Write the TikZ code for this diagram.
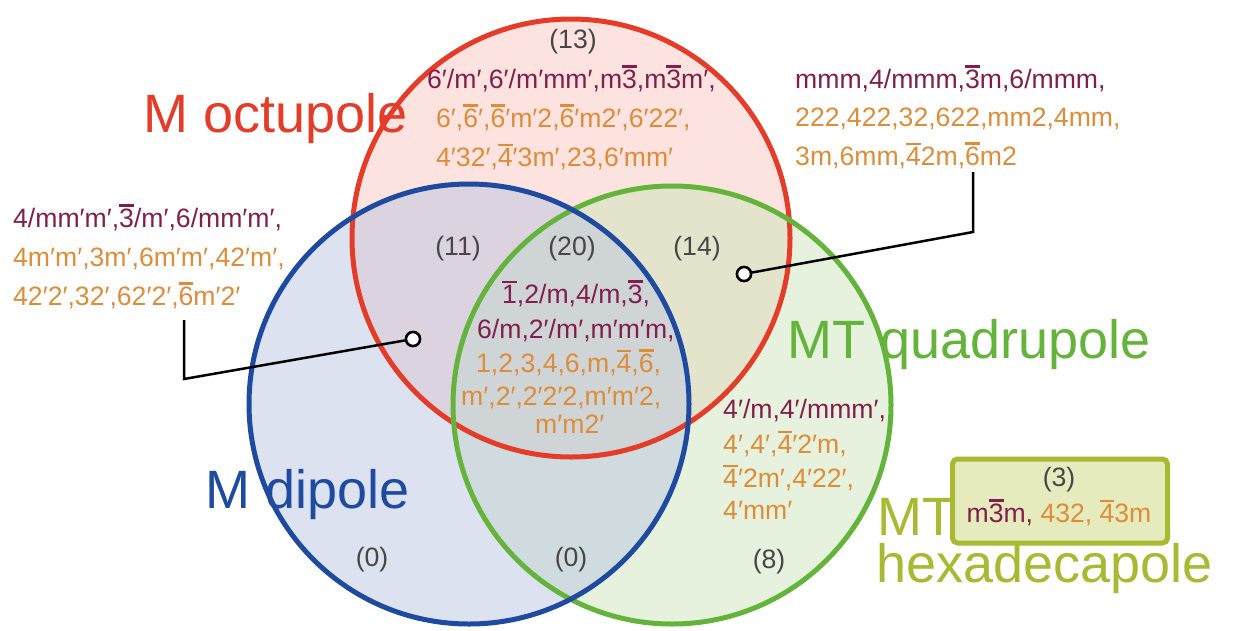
\documentclass[tikz,border=0pt]{standalone}
\usepackage{fontspec}
\setmainfont{Liberation Sans}
\definecolor{cred}{RGB}{228,60,40}
\definecolor{cblue}{RGB}{30,75,160}
\definecolor{cgreen}{RGB}{100,180,60}
\definecolor{colive}{RGB}{170,185,50}
\definecolor{fred}{RGB}{249,199,191}
\definecolor{fgreen}{RGB}{205,229,187}
\definecolor{fblue}{RGB}{187,197,225}
\definecolor{fbox}{RGB}{230,235,190}
\definecolor{cpur}{RGB}{130,30,75}
\definecolor{corg}{RGB}{222,140,55}
\definecolor{cgrey}{RGB}{70,70,70}
\newcommand\ob[1]{\leavevmode\vbox{\hrule height 0.085em\kern 0.07em\hbox{#1}}}
\newcommand\pu[1]{\textcolor{cpur}{#1}}
\newcommand\og[1]{\textcolor{corg}{#1}}
\begin{document}
\begin{tikzpicture}[x=1pt,y=-1pt,
  small/.style={font=\fontsize{26.6}{30}\selectfont, inner sep=0pt},
  lineL/.style={small, anchor=base west},
  count/.style={small, text=cgrey, anchor=center},
  big/.style={font=\fontsize{54}{60}\selectfont, inner sep=0pt, anchor=base west},
  ring/.style={line width=5pt},
  marker/.style={circle, draw=black, fill=white, line width=2.5pt, minimum size=14pt, inner sep=0pt},
  leader/.style={draw=black, line width=2.5pt}]
\useasboundingbox (0,0) rectangle (1233,630);
% circle centres
\coordinate (Ro) at (571,238);
\coordinate (Bo) at (469,404);
\coordinate (Go) at (672,405);
% fills
\fill[fred, fill opacity=0.5] (Ro) circle[radius=219pt];
\fill[fgreen, fill opacity=0.5] (Go) circle[radius=219pt];
\fill[fblue, fill opacity=0.5] (Bo) circle[radius=220pt];
% big labels
\node[big, text=cred] (lOct) at (143,132) {M octupole};
\node[big, text=cblue] (lDip) at (205,508) {M dipole};
\node[big, text=cgreen] (lQuad) at (787,358) {MT quadrupole};
\node[big, text=colive, text depth=0pt] (lMT) at (877,535) {MT};
\node[big, text=colive, text height=0.7em] (lHex) at (876,582) {hexadecapole};
% strokes
\draw[ring, cred] (Ro) circle[radius=219pt];
\draw[ring, cgreen] (Go) circle[radius=219pt];
\draw[ring, cblue] (Bo) circle[radius=220pt];
% counts
\node[count] (n13) at (573,42) {(13)};
\node[count] (n11) at (458,249) {(11)};
\node[count] (n20) at (572,249) {(20)};
\node[count] (n14) at (697,249) {(14)};
\node[count] (n0a) at (372,560) {(0)};
\node[count] (n0b) at (571,560) {(0)};
\node[count] (n8) at (769,562) {(8)};
% top block (13)
\node[lineL] (t1) at (427,88) {\pu{6′/m′,6′/m′mm′,m\ob{3},m\ob{3}m′,}};
\node[lineL] (t2) at (436,127) {\og{6′,\ob{6}′,\ob{6}′m′2,\ob{6}′m2′,6′22′,}};
\node[lineL] (t3) at (436,166) {\og{4′32′,\ob{4}′3m′,23,6′mm′}};
% top-right block (14)
\node[lineL] (r1) at (795,88) {\pu{mmm,4/mmm,\ob{3}m,6/mmm,}};
\node[lineL] (r2) at (795,126) {\og{222,422,32,622,mm2,4mm,}};
\node[lineL] (r3) at (795,165) {\og{3m,6mm,\ob{4}2m,\ob{6}m2}};
% left block (11)
\node[lineL] (l1) at (13,227) {\pu{4/mm′m′,\ob{3}/m′,6/mm′m′,}};
\node[lineL] (l2) at (13,266) {\og{4m′m′,3m′,6m′m′,42′m′,}};
\node[lineL] (l3) at (13,305) {\og{42′2′,32′,62′2′,\ob{6}m′2′}};
% centre block (20)
\node[lineL] (c1) at (502,303) {\pu{\ob{1},2/m,4/m,\ob{3},}};
\node[lineL] (c2) at (477,338) {\pu{6/m,2′/m′,m′m′m,}};
\node[lineL] (c3) at (476,372) {\og{1,2,3,4,6,m,\ob{4},\ob{6},}};
\node[lineL] (c4) at (461,405) {\og{m′,2′,2′2′2,m′m′2,}};
\node[lineL] (c5) at (535,433) {\og{m′m2′}};
% bottom-right block (8)
\node[lineL] (b1) at (723,418) {\pu{4′/m,4′/mmm′,}};
\node[lineL] (b2) at (723,453) {\og{4′,4′,\ob{4}′2′m,}};
\node[lineL] (b3) at (723,487) {\og{\ob{4}′2m′,4′22′,}};
\node[lineL] (b4) at (723,519) {\og{4′mm′}};
% hexadecapole box
\node[draw=colive, fill=fbox, line width=5pt, rounded corners=5pt,
      minimum width=215pt, minimum height=84pt, inner sep=0pt] (box) at (1060,501) {};
\node[count] (n3) at (1059,480) {(3)};
\node[small, anchor=base] (h1) at (1059,522) {\pu{m\ob{3}m,} \og{432,} \og{\ob{4}3m}};
% leaders
\coordinate (aL) at (184,320);
\coordinate (kL) at (184,379);
\node[marker] (mL) at (413,339) {};
\draw[leader] (aL) -- (kL) -- (mL);
\coordinate (aR) at (973,172);
\coordinate (kR) at (973,232);
\node[marker] (mR) at (744,274) {};
\draw[leader] (aR) -- (kR) -- (mR);
\node[marker] at (mL) {};
\node[marker] at (mR) {};
\end{tikzpicture}
\end{document}
